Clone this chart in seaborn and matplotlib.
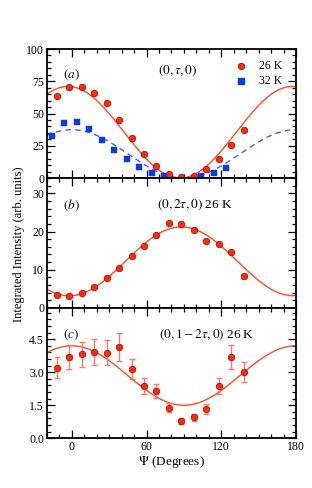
import numpy as np
import pandas as pd
import matplotlib
matplotlib.use("Agg")
import matplotlib.pyplot as plt
from matplotlib.ticker import MultipleLocator
import seaborn as sns

# measured angles (deg)
psi_26 = [-12, -2, 8, 18, 28, 38, 48, 58, 68, 78, 88, 98, 108, 118, 128, 138]
psi_32 = [-16, -6, 4, 14, 24, 34, 44, 54, 64, 74, 104, 114, 124]

# panel (a) (0,tau,0)
int_a_26 = [63.7, 70.4, 70.9, 66.2, 58.0, 44.8, 31.2, 18.8, 9.5, 3.1, 1.0, 1.8, 6.7, 15.0, 25.5, 36.9]
int_a_32 = [32.5, 42.8, 43.6, 38.1, 29.1, 21.6, 14.4, 8.5, 3.9, 1.5, 1.3, 3.6, 7.5]

# panel (b) (0,2tau,0)
int_b = [3.4, 3.2, 3.9, 5.5, 7.9, 10.4, 13.7, 16.2, 19.1, 22.1, 22.0, 20.5, 17.6, 16.8, 14.6, 8.3]

# panel (c) (0,1-2tau,0)
int_c = [3.21, 3.68, 3.82, 3.91, 3.88, 4.15, 3.15, 2.39, 2.15, 1.39, 0.79, 0.95, 1.33, 2.39, 3.68, 3.00]
err_c = [0.47, 0.55, 0.57, 0.58, 0.57, 0.63, 0.47, 0.36, 0.30, 0.21, 0.12, 0.15, 0.22, 0.36, 0.55, 0.45]

# fit parameters: offset, amplitude, phase (deg), I = off + amp*cos^2(psi - phase)
fit_a_26 = [0.0, 71.0, -3.0]
fit_a_32 = [0.0, 37.5, 0.0]
fit_b = [21.2, -18.0, -2.0]
fit_c = [1.5, 2.7, 0.0]

RED = "#ff2a0a"
RED_EDGE = "#a00000"
RED_LINE = "#ff4a2a"
BLUE = "#0a3ae0"
BLUE_LINE = "#3a62ff"

plt.rcParams["font.family"] = ["Liberation Serif", "DejaVu Serif"]
plt.rcParams["mathtext.fontset"] = "stix"

psi_fit = np.linspace(-20, 180, 401)


def fit_curve(p):
    return p[0] + p[1] * np.cos(np.radians(psi_fit - p[2])) ** 2


fig = plt.figure(figsize=(3.12, 4.88), dpi=100)
ax_a = fig.add_axes([0.150, 0.6352, 0.799, 0.2643])
ax_b = fig.add_axes([0.150, 0.3689, 0.799, 0.2664])
ax_c = fig.add_axes([0.150, 0.1018, 0.799, 0.2664])

# (a)
sns.lineplot(x=psi_fit, y=fit_curve(fit_a_26), color=RED_LINE, lw=1.0, ax=ax_a)
sns.lineplot(x=psi_fit, y=fit_curve(fit_a_32), color=BLUE_LINE, lw=1.0, ax=ax_a,
             linestyle=(0, (4, 3)))
sns.scatterplot(x=psi_26, y=int_a_26, marker="o", s=22, color=RED, edgecolor=RED_EDGE,
                linewidth=0.5, ax=ax_a, zorder=5)
sns.scatterplot(x=psi_32, y=int_a_32, marker="s", s=20, color=BLUE, edgecolor=BLUE,
                linewidth=0.3, ax=ax_a, zorder=5)
ax_a.set_ylim(0, 100)
ax_a.yaxis.set_major_locator(MultipleLocator(25))
ax_a.yaxis.set_minor_locator(MultipleLocator(5))
ax_a.text(-0.5, 80.5, "$(a)$", ha="center", va="center", fontsize=9.5)
ax_a.text(85, 83, r"$(0,\tau,0)$", ha="center", va="center", fontsize=9.5)
ax_a.scatter([136], [87], marker="o", s=22, color=RED, edgecolor=RED_EDGE, linewidth=0.5)
ax_a.scatter([136], [75], marker="s", s=20, color=BLUE)
ax_a.text(150, 87, "26 K", ha="left", va="center", fontsize=8.5)
ax_a.text(150, 75, "32 K", ha="left", va="center", fontsize=8.5)

# (b)
sns.lineplot(x=psi_fit, y=fit_curve(fit_b), color=RED_LINE, lw=1.0, ax=ax_b)
sns.scatterplot(x=psi_26, y=int_b, marker="o", s=22, color=RED, edgecolor=RED_EDGE,
                linewidth=0.5, ax=ax_b, zorder=5)
ax_b.set_ylim(0, 34)
ax_b.yaxis.set_major_locator(MultipleLocator(10))
ax_b.yaxis.set_minor_locator(MultipleLocator(2))
ax_b.text(-0.5, 27, "$(b)$", ha="center", va="center", fontsize=9.5)
ax_b.text(99, 27, r"$(0,2\tau,0)$ 26 K", ha="center", va="center", fontsize=9.5)

# (c)
sns.lineplot(x=psi_fit, y=fit_curve(fit_c), color=RED_LINE, lw=1.0, ax=ax_c)
ax_c.errorbar(psi_26, int_c, yerr=err_c, fmt="none", ecolor="#ff7a66", elinewidth=1.0,
              capsize=2.5, capthick=1.0, zorder=4)
sns.scatterplot(x=psi_26, y=int_c, marker="o", s=22, color=RED, edgecolor=RED_EDGE,
                linewidth=0.5, ax=ax_c, zorder=5)
ax_c.set_ylim(0, 5.9)
ax_c.yaxis.set_major_locator(MultipleLocator(1.5))
ax_c.yaxis.set_minor_locator(MultipleLocator(0.3))
ax_c.yaxis.set_major_formatter(matplotlib.ticker.FormatStrFormatter("%.1f"))
ax_c.text(-0.5, 4.7, "$(c)$", ha="center", va="center", fontsize=9.5)
ax_c.text(108, 4.7, r"$(0,1-2\tau,0)$ 26 K", ha="center", va="center", fontsize=9.5)

for ax in (ax_a, ax_b, ax_c):
    ax.set_xlim(-20, 180)
    ax.xaxis.set_major_locator(MultipleLocator(60))
    ax.xaxis.set_minor_locator(MultipleLocator(10))
    ax.tick_params(which="both", direction="in", top=True, right=True, labelsize=8.5,
                   width=0.9, pad=2)
    ax.tick_params(which="major", length=5.5)
    ax.tick_params(which="minor", length=3)
    for sp in ax.spines.values():
        sp.set_linewidth(1.3)
    ax.set_xlabel("")
    ax.set_ylabel("")
    ax.set_facecolor("white")

ax_a.tick_params(labelbottom=False)
ax_b.tick_params(labelbottom=False)
ax_c.set_xlabel(r"$\Psi$ (Degrees)", fontsize=9.5, labelpad=1)
fig.text(0.062, 0.50, "Integrated Intensity (arb. units)", rotation=90,
         ha="center", va="center", fontsize=9)

fig.savefig("out.png", dpi=100, facecolor="white")
